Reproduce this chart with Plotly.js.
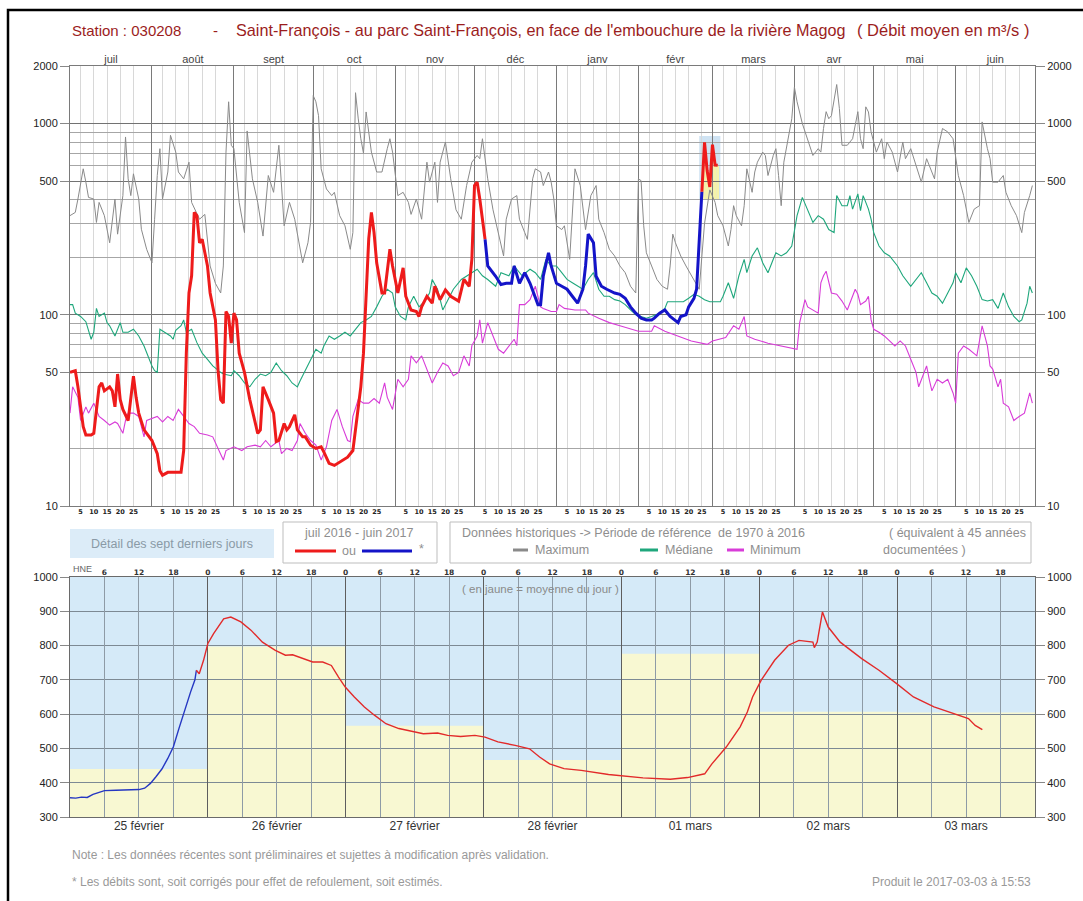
<!DOCTYPE html>
<html>
<head>
<meta charset="utf-8">
<script src="https://cdn.plot.ly/plotly-3.0.1.min.js"></script>
<style>html,body{margin:0;padding:0;background:#fff;}#chart{width:1083px;height:901px;}</style>
</head>
<body>
<div id="chart"></div>
<script>
// ---------------- DATA ----------------
const monthStarts = ['2016-07-01','2016-08-01','2016-09-01','2016-10-01','2016-11-01','2016-12-01','2017-01-01','2017-02-01','2017-03-01','2017-04-01','2017-05-01','2017-06-01','2017-07-01'];
const monthNames = ['juil','août','sept','oct','nov','déc','janv','févr','mars','avr','mai','juin'];
const dayTickDays = [5,10,15,20,25];
const yMajorTicks = [10,50,100,500,1000,2000];
const yMinorGrid = [20,60,70,80,90,200,300,400,600,700,800,900];

// current year daily flow (m3/s), Jul 1 2016 -> Feb 24 2017
const current = [
['2016-07-01',50],['2016-07-03',51],['2016-07-04',42],['2016-07-06',26],['2016-07-07',23.5],['2016-07-09',23.5],['2016-07-10',24],['2016-07-12',42],['2016-07-13',44],['2016-07-14',40],['2016-07-16',42],['2016-07-17',40],['2016-07-18',33],['2016-07-19',49],['2016-07-20',36],['2016-07-21',32],['2016-07-23',28],['2016-07-25',47.8],['2016-07-26',37],['2016-07-27',30.6],['2016-07-29',25],
['2016-08-01',22],['2016-08-03',18.8],['2016-08-04',15.3],['2016-08-05',14.5],['2016-08-07',15],['2016-08-12',15],['2016-08-13',19.5],['2016-08-14',63],['2016-08-15',130],['2016-08-16',160],['2016-08-17',343],['2016-08-18',330],['2016-08-19',238],['2016-08-20',248],['2016-08-22',180],['2016-08-23',130],['2016-08-25',94],['2016-08-26',51],['2016-08-27',36],['2016-08-28',34.5],['2016-08-29',104],['2016-08-30',98],['2016-08-31',71],
['2016-09-01',102],['2016-09-02',94],['2016-09-03',63],['2016-09-05',50],['2016-09-07',36],['2016-09-09',28],['2016-09-10',24],['2016-09-11',25],['2016-09-12',42],['2016-09-14',36],['2016-09-16',30.6],['2016-09-17',21.7],['2016-09-18',22],['2016-09-20',27],['2016-09-21',25],['2016-09-22',26],['2016-09-24',30],['2016-09-25',25],['2016-09-27',23],['2016-09-28',23],['2016-09-30',20.8],
['2016-10-02',20],['2016-10-04',20.4],['2016-10-05',19.2],['2016-10-07',16.7],['2016-10-09',16.3],['2016-10-11',17],['2016-10-14',18],['2016-10-16',19.5],['2016-10-18',33],['2016-10-19',42],['2016-10-20',63],['2016-10-21',130],['2016-10-22',250],['2016-10-23',343],['2016-10-24',269],['2016-10-25',187],['2016-10-27',130],['2016-10-28',130],['2016-10-30',220],['2016-10-31',180],
['2016-11-02',130],['2016-11-04',176],['2016-11-05',125],['2016-11-07',106],['2016-11-09',104],['2016-11-10',98],['2016-11-11',110],['2016-11-13',125],['2016-11-15',115],['2016-11-16',141],['2016-11-18',120],['2016-11-20',135],['2016-11-22',125],['2016-11-25',118],['2016-11-27',153],['2016-11-29',141],['2016-11-30',195],
['2016-12-01',474],['2016-12-02',494],['2016-12-03',403],['2016-12-05',248],['2016-12-06',180],['2016-12-09',159],['2016-12-11',144],['2016-12-13',146],['2016-12-15',146],['2016-12-16',180],['2016-12-18',146],['2016-12-20',166],['2016-12-22',146],['2016-12-25',113],['2016-12-26',113],['2016-12-27',159],['2016-12-29',211],['2016-12-30',180],
['2017-01-01',146],['2017-01-03',141],['2017-01-05',136],['2017-01-07',125],['2017-01-09',115],['2017-01-11',136],['2017-01-12',180],['2017-01-13',264],['2017-01-15',238],['2017-01-16',159],['2017-01-18',141],['2017-01-20',136],['2017-01-23',130],['2017-01-25',128],['2017-01-27',122],['2017-01-29',110],['2017-01-31',102],
['2017-02-02',96],['2017-02-04',94],['2017-02-06',94],['2017-02-07',96],['2017-02-09',102],['2017-02-11',106],['2017-02-13',98],['2017-02-16',91],['2017-02-17',98],['2017-02-19',100],['2017-02-20',110],['2017-02-22',122],['2017-02-23',136],['2017-02-24',258]
];
const estimatedFrom = '2016-12-05';
const estimatedTo = '2017-02-25';

// last seven days: daily means (yellow)
const dailyDates = ['2017-02-25','2017-02-26','2017-02-27','2017-02-28','2017-03-01','2017-03-02','2017-03-03'];
const dailyMean = [440,797,566,466,776,607,605];
const dayLabels = ['25 février','26 février','27 février','28 février','01 mars','02 mars','03 mars'];
const highlightRange = [400,860];

// historical maximum
const histMax = [
['2016-07-01',330],['2016-07-03',343],['2016-07-04',403],['2016-07-06',580],['2016-07-07',494],['2016-07-08',411],['2016-07-10',403],['2016-07-11',304],['2016-07-12',387],['2016-07-14',330],['2016-07-16',238],['2016-07-17',316],['2016-07-18',403],['2016-07-19',264],['2016-07-21',420],['2016-07-22',851],['2016-07-23',514],['2016-07-24',420],['2016-07-25',546],['2016-07-27',403],['2016-07-28',280],['2016-07-30',220],
['2016-08-01',187],['2016-08-02',316],['2016-08-03',535],['2016-08-04',739],['2016-08-05',403],['2016-08-07',558],['2016-08-08',868],['2016-08-10',709],['2016-08-11',558],['2016-08-13',514],['2016-08-15',628],['2016-08-16',387],['2016-08-19',316],['2016-08-21',335],['2016-08-23',180],['2016-08-25',146],['2016-08-27',130],['2016-08-28',180],['2016-08-29',709],['2016-08-30',1300],['2016-08-31',770],
['2016-09-01',739],['2016-09-03',387],['2016-09-05',269],['2016-09-06',915],['2016-09-08',514],['2016-09-10',387],['2016-09-12',258],['2016-09-14',535],['2016-09-16',437],['2016-09-18',770],['2016-09-20',292],['2016-09-22',387],['2016-09-24',316],['2016-09-27',187],['2016-09-29',238],['2016-09-30',304],
['2016-10-01',1400],['2016-10-02',1300],['2016-10-03',1100],['2016-10-04',580],['2016-10-06',455],['2016-10-08',420],['2016-10-09',437],['2016-10-11',330],['2016-10-13',292],['2016-10-15',220],['2016-10-16',269],['2016-10-17',1450],['2016-10-18',1068],['2016-10-19',833],['2016-10-20',700],['2016-10-21',1150],['2016-10-22',900],['2016-10-23',709],['2016-10-25',558],['2016-10-27',558],['2016-10-29',739],['2016-10-30',833],['2016-10-31',709],
['2016-11-02',420],['2016-11-04',437],['2016-11-06',387],['2016-11-07',335],['2016-11-09',403],['2016-11-11',316],['2016-11-13',628],['2016-11-14',494],['2016-11-16',628],['2016-11-17',387],['2016-11-18',628],['2016-11-20',801],['2016-11-22',514],['2016-11-24',354],['2016-11-26',316],['2016-11-28',474],['2016-11-30',628],
['2016-12-02',681],['2016-12-03',655],['2016-12-04',833],['2016-12-06',514],['2016-12-08',354],['2016-12-11',229],['2016-12-12',203],['2016-12-13',316],['2016-12-15',403],['2016-12-17',420],['2016-12-18',316],['2016-12-20',269],['2016-12-21',248],['2016-12-23',514],['2016-12-24',580],['2016-12-26',558],['2016-12-27',474],['2016-12-29',558],['2016-12-30',494],['2016-12-31',403],
['2017-01-01',292],['2017-01-03',279],['2017-01-04',292],['2017-01-06',195],['2017-01-07',343],['2017-01-08',580],['2017-01-10',474],['2017-01-12',279],['2017-01-14',420],['2017-01-16',474],['2017-01-17',316],['2017-01-19',269],['2017-01-21',220],['2017-01-23',203],['2017-01-25',180],['2017-01-27',166],['2017-01-29',141],['2017-01-31',130],
['2017-02-01',514],['2017-02-02',503],['2017-02-03',292],['2017-02-04',211],['2017-02-06',180],['2017-02-08',153],['2017-02-10',141],['2017-02-12',136],['2017-02-13',180],['2017-02-14',264],['2017-02-15',238],['2017-02-17',203],['2017-02-19',180],['2017-02-22',153],['2017-02-24',136],['2017-02-26',300],['2017-02-28',450],
['2017-03-02',387],['2017-03-03',330],['2017-03-05',292],['2017-03-07',229],['2017-03-08',279],['2017-03-09',372],['2017-03-10',330],['2017-03-12',292],['2017-03-13',372],['2017-03-14',580],['2017-03-16',437],['2017-03-17',558],['2017-03-18',628],['2017-03-20',709],['2017-03-21',681],['2017-03-22',535],['2017-03-24',681],['2017-03-25',739],['2017-03-26',535],['2017-03-27',372],['2017-03-28',628],['2017-03-30',868],['2017-03-31',1060],
['2017-04-01',1550],['2017-04-02',1300],['2017-04-04',1000],['2017-04-06',833],['2017-04-08',681],['2017-04-10',739],['2017-04-11',709],['2017-04-12',942],['2017-04-13',1154],['2017-04-14',1060],['2017-04-15',1100],['2017-04-17',1600],['2017-04-18',1200],['2017-04-19',770],['2017-04-21',770],['2017-04-23',833],['2017-04-24',990],['2017-04-25',1154],['2017-04-26',833],['2017-04-27',739],['2017-04-28',1223],['2017-04-29',1150],['2017-04-30',904],
['2017-05-02',709],['2017-05-04',833],['2017-05-05',655],['2017-05-06',801],['2017-05-08',709],['2017-05-10',558],['2017-05-12',801],['2017-05-13',655],['2017-05-15',739],['2017-05-17',604],['2017-05-19',494],['2017-05-21',655],['2017-05-23',558],['2017-05-24',514],['2017-05-25',709],['2017-05-27',942],['2017-05-29',904],['2017-05-31',833],
['2017-06-02',535],['2017-06-04',420],['2017-06-06',304],['2017-06-08',357],['2017-06-10',372],['2017-06-11',1020],['2017-06-13',739],['2017-06-14',655],['2017-06-15',494],['2017-06-17',494],['2017-06-19',535],['2017-06-20',437],['2017-06-22',372],['2017-06-24',330],['2017-06-26',269],['2017-06-27',343],['2017-06-29',420],['2017-06-30',474]
];

// historical median
const histMedian = [
['2016-07-01',113],['2016-07-02',113],['2016-07-03',102],['2016-07-05',98],['2016-07-07',92],['2016-07-09',74.5],['2016-07-10',81],['2016-07-11',108],['2016-07-12',98],['2016-07-14',102],['2016-07-15',91],['2016-07-16',87.6],['2016-07-18',77.5],['2016-07-19',84],['2016-07-20',91],['2016-07-21',81],['2016-07-23',81],['2016-07-25',84],['2016-07-27',77.5],['2016-07-29',68.7],['2016-07-30',63],
['2016-08-01',54],['2016-08-02',51],['2016-08-03',50],['2016-08-04',84],['2016-08-06',81],['2016-08-08',77.5],['2016-08-09',74.5],['2016-08-10',83],['2016-08-12',87.6],['2016-08-13',94],['2016-08-14',81],['2016-08-16',84],['2016-08-18',71.5],['2016-08-20',63],['2016-08-22',58.5],['2016-08-24',54],['2016-08-27',50],['2016-08-28',49],['2016-08-31',48],
['2016-09-01',51],['2016-09-03',48],['2016-09-05',44],['2016-09-07',42],['2016-09-09',46],['2016-09-11',49],['2016-09-13',48],['2016-09-15',50],['2016-09-17',56],['2016-09-19',51],['2016-09-21',48],['2016-09-23',44],['2016-09-25',42],['2016-09-26',45],['2016-09-28',51],['2016-09-30',58.5],
['2016-10-02',66],['2016-10-04',63],['2016-10-05',68.7],['2016-10-07',77.5],['2016-10-09',74.5],['2016-10-11',77.5],['2016-10-13',81],['2016-10-15',77.5],['2016-10-17',84],['2016-10-19',91],['2016-10-21',94],['2016-10-23',98],['2016-10-25',110],['2016-10-27',125],['2016-10-29',136],['2016-10-31',130],
['2016-11-01',110],['2016-11-03',98],['2016-11-05',94],['2016-11-06',110],['2016-11-08',125],['2016-11-10',110],['2016-11-12',117],['2016-11-14',130],['2016-11-15',153],['2016-11-17',136],['2016-11-19',106],['2016-11-21',120],['2016-11-23',136],['2016-11-26',153],['2016-11-28',160],['2016-11-30',166],
['2016-12-02',173],['2016-12-04',160],['2016-12-06',153],['2016-12-09',141],['2016-12-11',166],['2016-12-14',160],['2016-12-16',180],['2016-12-19',160],['2016-12-22',173],['2016-12-24',166],['2016-12-26',153],['2016-12-28',195],['2016-12-30',180],
['2017-01-01',180],['2017-01-03',166],['2017-01-05',153],['2017-01-07',147],['2017-01-09',141],['2017-01-11',136],['2017-01-13',153],['2017-01-15',166],['2017-01-17',136],['2017-01-19',125],['2017-01-21',125],['2017-01-23',120],['2017-01-25',118],['2017-01-27',113],['2017-01-29',106],['2017-01-31',100],
['2017-02-02',98],['2017-02-04',96],['2017-02-06',98],['2017-02-09',102],['2017-02-11',108],['2017-02-12',117],['2017-02-15',117],['2017-02-18',117],['2017-02-20',122],['2017-02-22',128],['2017-02-24',125],['2017-02-26',120],['2017-02-28',117],
['2017-03-02',117],['2017-03-04',117],['2017-03-05',125],['2017-03-07',147],['2017-03-09',122],['2017-03-11',160],['2017-03-13',195],['2017-03-14',166],['2017-03-16',203],['2017-03-18',224],['2017-03-20',187],['2017-03-22',166],['2017-03-24',195],['2017-03-25',211],['2017-03-27',203],['2017-03-29',211],['2017-03-31',229],
['2017-04-01',269],['2017-04-02',330],['2017-04-04',411],['2017-04-06',357],['2017-04-08',304],['2017-04-10',330],['2017-04-12',316],['2017-04-14',279],['2017-04-16',269],['2017-04-17',420],['2017-04-19',372],['2017-04-21',372],['2017-04-22',420],['2017-04-23',357],['2017-04-25',429],['2017-04-26',350],['2017-04-27',420],['2017-04-29',357],['2017-04-30',316],
['2017-05-01',269],['2017-05-03',229],['2017-05-05',211],['2017-05-07',203],['2017-05-10',180],['2017-05-12',160],['2017-05-15',141],['2017-05-17',153],['2017-05-19',166],['2017-05-21',147],['2017-05-23',130],['2017-05-25',125],['2017-05-27',115],['2017-05-29',130],['2017-05-31',147],
['2017-06-01',166],['2017-06-03',147],['2017-06-05',176],['2017-06-07',160],['2017-06-09',141],['2017-06-11',120],['2017-06-13',118],['2017-06-15',120],['2017-06-17',108],['2017-06-19',130],['2017-06-21',110],['2017-06-23',98],['2017-06-25',92],['2017-06-26',94],['2017-06-28',115],['2017-06-29',141],['2017-06-30',130]
];

// historical minimum
const histMin = [
['2016-07-01',30.6],['2016-07-02',42],['2016-07-04',37],['2016-07-05',28],['2016-07-07',33],['2016-07-08',30.6],['2016-07-10',34.5],['2016-07-12',29.4],['2016-07-14',28],['2016-07-16',26.5],['2016-07-18',27.5],['2016-07-19',27],['2016-07-21',24],['2016-07-22',28],['2016-07-23',30.6],['2016-07-25',30.6],['2016-07-27',29.4],['2016-07-29',23],['2016-07-30',28],
['2016-08-01',28.7],['2016-08-03',29.4],['2016-08-05',27.5],['2016-08-07',29.4],['2016-08-09',28],['2016-08-11',32],['2016-08-13',29.4],['2016-08-15',27],['2016-08-17',26],['2016-08-19',24],['2016-08-22',23.5],['2016-08-24',23],['2016-08-26',20],['2016-08-28',17.4],['2016-08-29',19.5],
['2016-09-01',20.4],['2016-09-04',19.5],['2016-09-06',20.4],['2016-09-09',20.8],['2016-09-11',20.4],['2016-09-13',22],['2016-09-15',20.4],['2016-09-18',22],['2016-09-19',18.8],['2016-09-21',20],['2016-09-23',19.5],['2016-09-25',22],['2016-09-26',27],['2016-09-28',24],['2016-09-30',22],
['2016-10-02',20.8],['2016-10-04',17.4],['2016-10-06',20.4],['2016-10-08',28],['2016-10-10',32],['2016-10-12',26],['2016-10-14',22],['2016-10-15',21.7],['2016-10-16',29.4],['2016-10-18',36],['2016-10-20',34.5],['2016-10-22',34.5],['2016-10-24',36.5],['2016-10-26',34.5],['2016-10-28',44],['2016-10-29',37],['2016-10-31',32],
['2016-11-02',46],['2016-11-04',42],['2016-11-06',46],['2016-11-07',61],['2016-11-09',56],['2016-11-11',61],['2016-11-13',52],['2016-11-15',44],['2016-11-17',50],['2016-11-19',56],['2016-11-21',54],['2016-11-23',48],['2016-11-25',50],['2016-11-27',61],['2016-11-29',54],['2016-11-30',69],
['2016-12-02',77.5],['2016-12-03',94],['2016-12-04',71],['2016-12-06',91],['2016-12-08',77.5],['2016-12-10',66],['2016-12-12',63],['2016-12-14',69],['2016-12-16',74.5],['2016-12-17',69],['2016-12-18',113],['2016-12-20',113],['2016-12-22',120],['2016-12-24',141],['2016-12-26',110],['2016-12-27',108],['2016-12-30',104],
['2017-01-01',104],['2017-01-02',113],['2017-01-04',108],['2017-01-08',106],['2017-01-12',106],['2017-01-13',102],['2017-01-17',96],['2017-01-21',91],['2017-01-25',87.6],['2017-01-29',84],
['2017-02-01',82],['2017-02-06',82],['2017-02-07',87.6],['2017-02-11',82],['2017-02-16',77.5],['2017-02-21',73],['2017-02-27',70],
['2017-03-01',73],['2017-03-06',76],['2017-03-09',87.6],['2017-03-11',84],['2017-03-13',98],['2017-03-14',77.5],['2017-03-17',74.5],['2017-03-22',71],['2017-03-27',68.7],
['2017-04-02',66],['2017-04-03',91],['2017-04-05',120],['2017-04-06',110],['2017-04-08',106],['2017-04-10',102],['2017-04-11',147],['2017-04-12',160],['2017-04-13',169],['2017-04-15',130],['2017-04-17',128],['2017-04-19',118],['2017-04-21',106],['2017-04-23',125],['2017-04-24',136],['2017-04-25',128],['2017-04-26',113],['2017-04-28',118],['2017-04-29',125],['2017-04-30',94],
['2017-05-01',84],['2017-05-03',81],['2017-05-05',77.5],['2017-05-07',73],['2017-05-09',68.7],['2017-05-11',73],['2017-05-13',68.7],['2017-05-15',58.5],['2017-05-17',50],['2017-05-18',42],['2017-05-19',46],['2017-05-21',54],['2017-05-22',46],['2017-05-23',40],['2017-05-25',46],['2017-05-27',44],['2017-05-29',46],['2017-05-31',39],
['2017-06-01',34.5],['2017-06-02',63],['2017-06-04',68.7],['2017-06-06',66],['2017-06-09',61],['2017-06-11',87.6],['2017-06-13',68.7],['2017-06-14',54],['2017-06-15',52],['2017-06-17',42],['2017-06-18',46],['2017-06-19',34.5],['2017-06-21',33],['2017-06-23',28],['2017-06-25',29.4],['2017-06-27',30.6],['2017-06-29',39],['2017-06-30',34.5]
];

// detail of the last seven days (instantaneous flow)
const detailTimes = ['2017-02-25 00:00','2017-02-25 01:00','2017-02-25 02:00','2017-02-25 03:00','2017-02-25 04:00','2017-02-25 05:00','2017-02-25 06:00','2017-02-25 08:00','2017-02-25 10:00','2017-02-25 12:00','2017-02-25 13:00','2017-02-25 14:00','2017-02-25 15:00','2017-02-25 16:00','2017-02-25 17:00','2017-02-25 18:00','2017-02-25 19:00','2017-02-25 20:00','2017-02-25 21:00','2017-02-25 21:45','2017-02-25 22:00','2017-02-25 22:30','2017-02-25 23:15',
'2017-02-26 00:00','2017-02-26 01:00','2017-02-26 02:45','2017-02-26 04:00','2017-02-26 05:45','2017-02-26 07:30','2017-02-26 09:30','2017-02-26 11:45','2017-02-26 13:30','2017-02-26 14:45','2017-02-26 16:30','2017-02-26 18:15','2017-02-26 20:00','2017-02-26 21:30','2017-02-26 22:45','2017-02-26 23:55',
'2017-02-27 01:30','2017-02-27 03:15','2017-02-27 05:00','2017-02-27 07:00','2017-02-27 09:15','2017-02-27 11:45','2017-02-27 13:30','2017-02-27 16:00','2017-02-27 17:45','2017-02-27 20:00','2017-02-27 22:30',
'2017-02-28 00:15','2017-02-28 02:30','2017-02-28 05:30','2017-02-28 08:00','2017-02-28 09:45','2017-02-28 11:30','2017-02-28 14:00','2017-02-28 17:00','2017-02-28 21:45',
'2017-03-01 00:00','2017-03-01 03:45','2017-03-01 08:30','2017-03-01 11:30','2017-03-01 14:30','2017-03-01 15:45','2017-03-01 18:15','2017-03-01 20:40','2017-03-01 21:55','2017-03-01 22:50',
'2017-03-02 00:20','2017-03-02 02:40','2017-03-02 05:05','2017-03-02 06:55','2017-03-02 09:20','2017-03-02 09:35','2017-03-02 10:05','2017-03-02 11:00','2017-03-02 12:00','2017-03-02 14:05','2017-03-02 17:50','2017-03-02 20:50','2017-03-02 23:55',
'2017-03-03 02:50','2017-03-03 06:25','2017-03-03 10:00','2017-03-03 12:25','2017-03-03 13:35','2017-03-03 14:50'];
const detailValues = [356,355,358,357,366,372,377,378,379,380,384,398,418,440,470,505,560,615,665,700,728,718,757,
806,835,878,883,869,845,810,786,772,773,762,752,752,742,708,679,
650,621,597,572,558,548,543,545,538,535,538,
533,519,509,499,475,455,441,436,424,
421,414,410,415,426,455,504,563,606,650,
699,757,801,815,810,794,810,898,854,810,762,728,689,
650,621,601,587,567,555];
const detailEstimatedUntil = '2017-02-25 22:00';

// ---------------- HELPERS ----------------
const W = 1083, H = 901;
const px = x => x / W;
const py = y => 1 - y / H;
function ms(s){ const m = s.match(/(\d+)-(\d+)-(\d+)(?:[ T](\d+):(\d+))?/); return Date.UTC(+m[1], +m[2]-1, +m[3], +(m[4]||0), +(m[5]||0)); }
function fmt(t){ const d = new Date(t); const p = n => String(n).padStart(2,'0'); return d.getUTCFullYear()+'-'+p(d.getUTCMonth()+1)+'-'+p(d.getUTCDate())+' '+p(d.getUTCHours())+':'+p(d.getUTCMinutes()); }
const HOUR = 3600000, DAY = 24*HOUR;
const FONT = 'Liberation Sans, Arial, sans-serif';

// ---------------- TOP CHART TRACES ----------------
const curAll = current.concat(dailyDates.map((d,i)=>[d, dailyMean[i]]));
const red1 = curAll.filter(p => p[0] <= estimatedFrom);
const blue1 = curAll.filter(p => p[0] >= estimatedFrom && p[0] <= estimatedTo);
const red2 = curAll.filter(p => p[0] >= estimatedTo);

function lineTrace(series, color, width, xa, ya){
  return {type:'scatter', mode:'lines', x: series.map(p=>p[0]), y: series.map(p=>p[1]),
    line:{color:color, width:width}, xaxis:xa, yaxis:ya, hoverinfo:'skip', showlegend:false};
}
// invisible helper so that each overlaying axis gets its own subplot drawn
function axisHolder(xa, ya, xv, yv){
  return {type:'scatter', mode:'markers', x:[xv], y:[yv], marker:{size:1, opacity:0}, xaxis:xa, yaxis:ya, hoverinfo:'skip', showlegend:false};
}
const traces = [
  lineTrace(histMax, '#8a8a8a', 1, 'x', 'y'),
  lineTrace(histMedian, '#1fa77c', 1.1, 'x', 'y'),
  lineTrace(histMin, '#d83cd8', 1.1, 'x', 'y'),
  lineTrace(red1, '#ee1b1b', 3, 'x', 'y'),
  lineTrace(blue1, '#1414c8', 3, 'x', 'y'),
  lineTrace(red2, '#ee1b1b', 3, 'x', 'y')
];

// ---------------- BOTTOM CHART TRACES ----------------
const det = detailTimes.map((t,i)=>[t, detailValues[i]]);
const detBlue = det.filter(p => p[0] <= detailEstimatedUntil);
const detRed = det.filter(p => p[0] >= detailEstimatedUntil);
traces.push(lineTrace(detBlue, '#2537c2', 1.4, 'x4', 'y4'));
traces.push(lineTrace(detRed, '#e22a2a', 1.4, 'x4', 'y4'));

// ---------------- AXIS TICKS ----------------
const dayTickVals = [], dayTickText = [];
for (let i = 0; i < 12; i++) {
  for (const d of dayTickDays) {
    dayTickVals.push(monthStarts[i].slice(0,8) + String(d).padStart(2,'0'));
    dayTickText.push('<b>' + d + '</b>');
  }
}
const midMonths = monthNames.map((n,i)=> fmt((ms(monthStarts[i]) + ms(monthStarts[i+1]))/2));

const detStart = ms(dailyDates[0]);
const detEnd = detStart + dailyDates.length * DAY;
const hourTickVals = [], hourTickText = [], sixGrid = [], dayGrid = [];
for (let t = detStart; t <= detEnd; t += 6*HOUR) {
  const h = Math.round(((t - detStart) / HOUR) % 24);
  if (t > detStart && t < detEnd) { hourTickVals.push(fmt(t)); hourTickText.push('<b>' + h + '</b>'); }
  if (h === 0) dayGrid.push(fmt(t)); else sixGrid.push(fmt(t));
}
const noonVals = dailyDates.map(d => fmt(ms(d) + 12*HOUR));

// holders for the overlaying axes
traces.push(axisHolder('x2','y', monthStarts[1], 100));
traces.push(axisHolder('x3','y', monthStarts[1], 100));
traces.push(axisHolder('x','y2', monthStarts[1], 100));
traces.push(axisHolder('x','y3', monthStarts[1], 100));
traces.push(axisHolder('x5','y4', noonVals[0], 500));
traces.push(axisHolder('x6','y4', noonVals[0], 500));
traces.push(axisHolder('x7','y4', noonVals[0], 500));
traces.push(axisHolder('x4','y5', noonVals[0], 500));

// ---------------- SHAPES ----------------
const shapes = [];
// bottom background
shapes.push({type:'rect', xref:'x4', yref:'y4', x0:fmt(detStart), x1:fmt(detEnd), y0:300, y1:1000, fillcolor:'#d5eaf8', line:{width:0}, layer:'below'});
dailyDates.forEach((d,i)=>{
  shapes.push({type:'rect', xref:'x4', yref:'y4', x0:fmt(ms(d)), x1:fmt(ms(d)+DAY), y0:300, y1:dailyMean[i], fillcolor:'#f8f8d2', line:{width:0}, layer:'below'});
});
// highlight box on top chart (last seven days)
shapes.push({type:'rect', xref:'x', yref:'y', x0:fmt(ms(dailyDates[0]) - DAY), x1:fmt(detEnd), y0:highlightRange[0], y1:highlightRange[1], fillcolor:'#cfe3f3', line:{width:0}, layer:'below'});
dailyDates.forEach((d,i)=>{
  shapes.push({type:'rect', xref:'x', yref:'y', x0:fmt(ms(d)-12*HOUR), x1:fmt(ms(d)+12*HOUR), y0:highlightRange[0], y1:dailyMean[i], fillcolor:'#f6f2a8', line:{width:0}, layer:'below'});
});
// outer frame (only the left and top edges fall inside the picture)
shapes.push({type:'rect', xref:'paper', yref:'paper', x0:px(8), x1:px(1092), y0:py(912), y1:py(10), line:{color:'#000', width:2.5}, fillcolor:'rgba(0,0,0,0)', layer:'above'});
// legend boxes
shapes.push({type:'rect', xref:'paper', yref:'paper', x0:px(70), x1:px(274), y0:py(558), y1:py(529), fillcolor:'#dcecf8', line:{width:0}});
shapes.push({type:'rect', xref:'paper', yref:'paper', x0:px(283), x1:px(437), y0:py(563), y1:py(522), fillcolor:'rgba(0,0,0,0)', line:{color:'#bdbdbd', width:1}});
shapes.push({type:'rect', xref:'paper', yref:'paper', x0:px(450), x1:px(1031), y0:py(563), y1:py(522), fillcolor:'rgba(0,0,0,0)', line:{color:'#bdbdbd', width:1}});
function legLine(x0, x1, y, color){ shapes.push({type:'line', xref:'paper', yref:'paper', x0:px(x0), x1:px(x1), y0:py(y), y1:py(y), line:{color:color, width:3}}); }
legLine(295, 336, 551, '#ee1b1b');
legLine(362, 412, 551, '#1414c8');
legLine(513, 528, 550, '#8a8a8a');
legLine(640, 658, 550, '#1fa77c');
legLine(727, 744, 550, '#d83cd8');

// ---------------- ANNOTATIONS ----------------
const GRAY = '#8e8e8e';
function note(text, x, y, opts){
  return Object.assign({xref:'paper', yref:'paper', x:px(x), y:py(y), text:text, showarrow:false, xanchor:'left', yanchor:'middle', font:{family:FONT, size:12, color:GRAY}}, opts||{});
}
const TITLE = '#9b1d1d';
const annotations = [
  note('Station : 030208', 70, 30, {font:{family:FONT, size:15, color:TITLE}}),
  note('-', 215, 30, {xanchor:'center', font:{family:FONT, size:15, color:TITLE}}),
  note("Saint-François - au parc Saint-François, en face de l'embouchure de la rivière Magog", 234, 30, {font:{family:FONT, size:16.2, color:TITLE}}),
  note('( Débit moyen en m³/s )', 1031, 30, {xanchor:'right', font:{family:FONT, size:16.5, color:TITLE}}),
  note('Détail des sept derniers jours', 172, 544, {xanchor:'center', font:{family:FONT, size:12.5, color:'#8a9aa6'}}),
  note('juil 2016 - juin 2017', 358, 533, {xanchor:'center', font:{family:FONT, size:12.5, color:GRAY}}),
  note('ou', 349, 551, {xanchor:'center', font:{family:FONT, size:12.5, color:GRAY}}),
  note('*', 421, 549, {xanchor:'center', font:{family:FONT, size:12.5, color:GRAY}}),
  note('Données historiques -> Période de référence  de 1970 à 2016', 460, 533, {font:{family:FONT, size:12.5, color:GRAY}}),
  note('( équivalent à 45 années', 1028, 533, {xanchor:'right', font:{family:FONT, size:12.5, color:GRAY}}),
  note('Maximum', 533, 550, {font:{family:FONT, size:12.5, color:GRAY}}),
  note('Médiane', 663, 550, {font:{family:FONT, size:12.5, color:GRAY}}),
  note('Minimum', 748, 550, {font:{family:FONT, size:12.5, color:GRAY}}),
  note('documentées )', 881, 550, {font:{family:FONT, size:12.5, color:GRAY}}),
  note('HNE', 71, 569, {font:{family:FONT, size:9, color:'#666'}}),
  note('( en jaune = moyenne du jour )', 540, 589, {xanchor:'center', font:{family:FONT, size:11.5, color:'#8a8a8a'}}),
  note('Note : Les données récentes sont préliminaires et sujettes à modification après validation.', 70, 855, {font:{family:FONT, size:12, color:'#999'}}),
  note('* Les débits sont, soit corrigés pour effet de refoulement, soit estimés.', 70, 882, {font:{family:FONT, size:12, color:'#999'}}),
  note('Produit le 2017-03-03 à 15:53', 1033, 882, {xanchor:'right', font:{family:FONT, size:12, color:'#999'}})
];

// ---------------- LAYOUT ----------------
const topX = [px(70), px(1035)];
const topY = [py(506), py(66)];
const botY = [py(817), py(577)];
const topRange = [monthStarts[0], monthStarts[12]];
const logRange = [1, Math.log10(2000)];
const botRange = [fmt(detStart), fmt(detEnd)];
const tickFont = {family:FONT, size:11, color:'#222'};
const botTicks = [300,400,500,600,700,800,900,1000];

const layout = {
  width: W, height: H, autosize:false,
  margin:{l:0, r:0, t:0, b:0},
  paper_bgcolor:'#ffffff', plot_bgcolor:'rgba(0,0,0,0)',
  showlegend:false, font:{family:FONT},
  // top chart
  xaxis:{type:'date', domain:topX, anchor:'y', range:topRange, autorange:false, tickmode:'array', tickvals:dayTickVals, ticktext:dayTickText, tickfont:{family:'DejaVu Sans', size:6.5, color:'#222'}, showgrid:true, gridcolor:'#d8d8d8', gridwidth:1, ticks:'', zeroline:false, showline:false},
  xaxis2:{type:'date', overlaying:'x', anchor:'y', range:topRange, autorange:false, tickmode:'array', tickvals:monthStarts, showticklabels:false, showgrid:true, gridcolor:'#7a7a7a', ticks:'', showline:true, mirror:true, linecolor:'#7a7a7a', linewidth:1, zeroline:false},
  xaxis3:{type:'date', overlaying:'x', anchor:'y', side:'top', range:topRange, autorange:false, tickmode:'array', tickvals:midMonths, ticktext:monthNames, tickfont:{family:FONT, size:11, color:'#444'}, showgrid:false, ticks:'', zeroline:false, showline:false},
  yaxis:{type:'log', domain:topY, anchor:'x', range:logRange, autorange:false, tickmode:'array', tickvals:yMinorGrid, showticklabels:false, showgrid:true, gridcolor:'#a6a6a6', ticks:'', zeroline:false},
  yaxis2:{type:'log', overlaying:'y', anchor:'x', side:'left', range:logRange, autorange:false, tickmode:'array', tickvals:yMajorTicks, ticktext:yMajorTicks.map(String), tickfont:tickFont, showgrid:true, gridcolor:'#727272', ticks:'outside', ticklen:9, tickcolor:'#888', showline:true, mirror:true, linecolor:'#7a7a7a', zeroline:false},
  yaxis3:{type:'log', overlaying:'y', anchor:'x', side:'right', range:logRange, autorange:false, tickmode:'array', tickvals:yMajorTicks, ticktext:yMajorTicks.map(String), tickfont:tickFont, showgrid:false, ticks:'outside', ticklen:9, tickcolor:'#888', zeroline:false},
  // bottom chart
  xaxis4:{type:'date', domain:topX, anchor:'y4', side:'top', range:botRange, autorange:false, tickmode:'array', tickvals:hourTickVals, ticktext:hourTickText, tickfont:{family:'DejaVu Sans', size:7.5, color:'#333'}, showgrid:false, ticks:'', zeroline:false},
  xaxis5:{type:'date', overlaying:'x4', anchor:'y4', side:'bottom', range:botRange, autorange:false, tickmode:'array', tickvals:noonVals, ticktext:dayLabels, tickfont:{family:FONT, size:12, color:'#333'}, showgrid:false, ticks:'', zeroline:false},
  xaxis6:{type:'date', overlaying:'x4', anchor:'y4', range:botRange, autorange:false, tickmode:'array', tickvals:sixGrid, showticklabels:false, showgrid:true, gridcolor:'#8e9ba6', ticks:'', zeroline:false},
  xaxis7:{type:'date', overlaying:'x4', anchor:'y4', range:botRange, autorange:false, tickmode:'array', tickvals:dayGrid, showticklabels:false, showgrid:true, gridcolor:'#5e5e5e', ticks:'', showline:true, mirror:true, linecolor:'#6a6a6a', zeroline:false},
  yaxis4:{domain:botY, anchor:'x4', range:[300,1000], autorange:false, tickmode:'array', tickvals:botTicks, tickfont:tickFont, showgrid:true, gridcolor:'#7d8a94', ticks:'outside', ticklen:9, tickcolor:'#888', showline:true, mirror:true, linecolor:'#6a6a6a', zeroline:false},
  yaxis5:{overlaying:'y4', anchor:'x4', side:'right', range:[300,1000], autorange:false, tickmode:'array', tickvals:botTicks, tickfont:tickFont, showgrid:false, ticks:'outside', ticklen:9, tickcolor:'#888', zeroline:false},
  shapes: shapes,
  annotations: annotations
};

Plotly.newPlot('chart', traces, layout, {displayModeBar:false, staticPlot:true});
</script>
</body>
</html>
